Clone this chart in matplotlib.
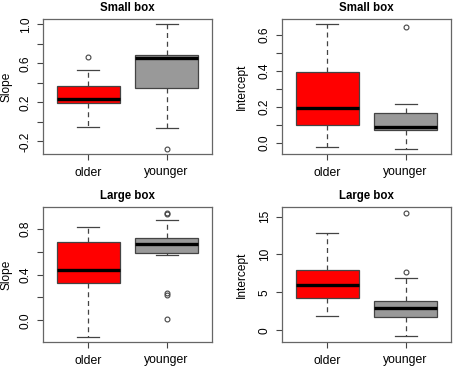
import matplotlib
matplotlib.use("Agg")
import matplotlib.pyplot as plt

plt.rcParams['font.family'] = ['Liberation Sans', 'DejaVu Sans']

groups = ["older", "younger"]
box_colors = ["#ff0000", "#999999"]

# five-number summaries: (whislo, q1, med, q3, whishi)
small_slope = [(-0.056, 0.19, 0.234, 0.364, 0.534), (-0.064, 0.35, 0.657, 0.685, 1.0)]
small_slope_out = [[0.668], [-0.28]]
small_icpt = [(-0.022, 0.102, 0.193, 0.394, 0.659), (-0.033, 0.074, 0.089, 0.168, 0.218)]
small_icpt_out = [[], [0.64]]
large_slope = [(-0.143, 0.324, 0.438, 0.688, 0.813), (0.575, 0.589, 0.671, 0.72, 0.877)]
large_slope_out = [[], [0.93, 0.94, 0.24, 0.22, 0.012]]
large_icpt = [(1.84, 4.25, 6.0, 7.93, 12.8), (-0.79, 1.75, 2.89, 3.85, 6.84)]
large_icpt_out = [[], [15.5, 7.71]]

panels = [
    ("Small box", "Slope", small_slope, small_slope_out, (-0.33, 1.054),
     [-0.2, 0.0, 0.2, 0.4, 0.6, 0.8, 1.0], ["-0.2", "", "0.2", "", "0.6", "", "1.0"]),
    ("Small box", "Intercept", small_icpt, small_icpt_out, (-0.061, 0.687),
     [0.0, 0.1, 0.2, 0.3, 0.4, 0.5, 0.6], ["0.0", "", "0.2", "", "0.4", "", "0.6"]),
    ("Large box", "Slope", large_slope, large_slope_out, (-0.19, 0.992),
     [0.0, 0.2, 0.4, 0.6, 0.8], ["0.0", "", "0.4", "", "0.8"]),
    ("Large box", "Intercept", large_icpt, large_icpt_out, (-1.54, 16.26),
     [0, 5, 10, 15], ["0", "5", "10", "15"]),
]

# axes rectangles in pixels: left, top, right, bottom
rects = [(43, 19, 212, 154), (282, 19, 451, 154), (43, 207, 212, 342), (282, 207, 451, 342)]
# x pixel where the y label's baseline side sits
label_x = [13, 248, 13, 248]

W, H = 454, 367
fig = plt.figure(figsize=(W / 100, H / 100), dpi=100)
lc = "#444444"
fs = 8.6

for (title, ylabel, summ, outs, ylim, ticks, labels), (l, t, r, b), lx in zip(panels, rects, label_x):
    ax = fig.add_axes([l / W, 1 - b / H, (r - l) / W, (b - t) / H])
    stats = []
    for g, s, o in zip(groups, summ, outs):
        stats.append(dict(label=g, whislo=s[0], q1=s[1], med=s[2], q3=s[3], whishi=s[4], fliers=o))
    bp = ax.bxp(stats, positions=[1, 2], widths=0.8, patch_artist=True, capwidths=0.28,
                boxprops=dict(edgecolor=lc, linewidth=0.9),
                medianprops=dict(color="black", linewidth=2.4),
                whiskerprops=dict(color=lc, linewidth=0.9, linestyle=(0, (4, 3))),
                capprops=dict(color=lc, linewidth=0.9),
                flierprops=dict(marker="o", markersize=3.5, markerfacecolor="none",
                                markeredgecolor=lc, markeredgewidth=0.8))
    for patch, c in zip(bp["boxes"], box_colors):
        patch.set_facecolor(c)
    ax.set_xlim(0.42, 2.58)
    ax.set_ylim(*ylim)
    ax.set_yticks(ticks)
    ax.set_yticklabels(labels, rotation=90, va="center", fontsize=fs)
    ax.set_xticks([1, 2])
    ax.set_xticklabels(groups, fontsize=fs + 0.2)
    ax.tick_params(colors=lc, labelcolor="black", length=4, width=0.8)
    ax.tick_params(axis="x", pad=5)
    ax.tick_params(axis="y", pad=4)
    for sp in ax.spines.values():
        sp.set_color("#666666")
        sp.set_linewidth(0.9)
    ax.set_title(title, fontsize=fs - 0.3, fontweight="bold", pad=6)
    ax.set_ylabel(ylabel, fontsize=fs)
    ax.yaxis.set_label_coords((lx - l) / (r - l), 0.5)

fig.savefig("out.png", dpi=100)
